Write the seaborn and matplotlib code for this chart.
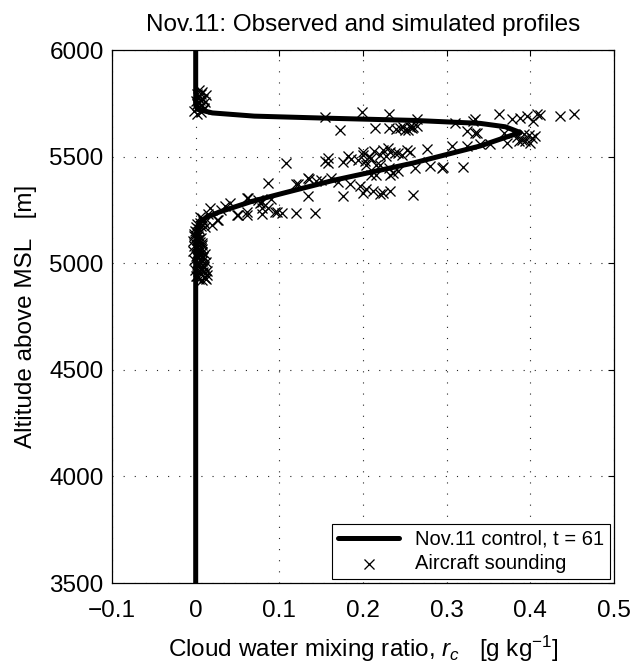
import matplotlib
matplotlib.use("Agg")
import matplotlib.pyplot as plt
import seaborn as sns
import pandas as pd

# ---- model profile (Nov.11 control, t = 61) ----
model_rc = [0.0, 0.0, 0.002, 0.004, 0.013, 0.028, 0.067, 0.106, 0.166, 0.26, 0.34, 0.37,
            0.388, 0.37, 0.34, 0.26, 0.16, 0.07, 0.02, 0.002, 0.0, 0.0]
model_alt = [3500, 5000, 5150, 5190, 5215, 5240, 5290, 5330, 5390, 5470, 5550, 5590,
             5613, 5640, 5656, 5670, 5680, 5690, 5705, 5722, 5740, 6000]

# ---- aircraft sounding ----
obs_low_rc = [0.008, 0.004, 0.010, 0.002, 0.006, 0.009, 0.003, 0.007, 0.005, 0.010,
              0.004, 0.002, 0.008, 0.006, 0.003, 0.009, 0.005, 0.001, 0.007, 0.004,
              0.006, 0.002, 0.008, 0.003, 0.005, 0.001, 0.004, 0.000, 0.003, -0.002,
              0.002, -0.001, 0.004, 0.000, 0.006, 0.002, 0.005, 0.009, 0.012, 0.014,
              0.011, 0.000, 0.013, -0.001, 0.010, 0.001, 0.012, -0.002, 0.009, 0.000,
              0.011, -0.003, 0.008, -0.002, 0.007, -0.003, 0.006, -0.002, 0.003, 0.010]
obs_low_alt = [4920, 4928, 4935, 4942, 4950, 4958, 4965, 4972, 4980, 4988,
               4995, 5002, 5010, 5018, 5025, 5032, 5040, 5048, 5055, 5062,
               5070, 5078, 5085, 5092, 5100, 5108, 5115, 5122, 5130, 5138,
               5145, 5152, 5160, 5168, 5175, 5182, 5190, 5196, 4925, 4945,
               4932, 4938, 4962, 4968, 4984, 4990, 5005, 5014, 5028, 5036,
               5044, 5058, 5066, 5080, 5096, 5104, 5118, 5126, 5142, 5188]

obs_top_rc = [0.002, 0.006, -0.002, 0.010, 0.004, 0.008, 0.001, 0.011, 0.005, 0.009,
              0.003, 0.012, 0.006, 0.008, 0.004, 0.000, 0.010, 0.002]
obs_top_alt = [5700, 5708, 5716, 5724, 5732, 5740, 5748, 5756, 5764, 5772,
               5780, 5788, 5796, 5804, 5812, 5760, 5730, 5794]

obs_cloud_rc = [
    # upper branch
    0.154, 0.199, 0.231, 0.264, 0.310, 0.334, 0.362, 0.378, 0.388, 0.396, 0.408, 0.411,
    0.403, 0.435, 0.452, 0.331, 0.172, 0.214, 0.231, 0.240, 0.244, 0.250, 0.254, 0.260,
    0.264, 0.324, 0.334, 0.336, 0.368, 0.386, 0.394, 0.402, 0.406, 0.400, 0.372, 0.352,
    0.340, 0.324, 0.306, 0.256, 0.258, 0.248, 0.390, 0.398, 0.384, 0.392,
    # middle band
    0.108, 0.154, 0.158, 0.158, 0.176, 0.182, 0.200, 0.202, 0.200, 0.207, 0.210, 0.220,
    0.224, 0.230, 0.232, 0.238, 0.242, 0.252, 0.256, 0.276, 0.262, 0.280, 0.294, 0.296,
    0.320, 0.216, 0.220, 0.204, 0.231, 0.242, 0.210, 0.216, 0.232, 0.236, 0.186, 0.194,
    0.213, 0.228, 0.246,
    # lower band
    0.087, 0.120, 0.134, 0.136, 0.144, 0.162, 0.184, 0.196, 0.176, 0.134, 0.200, 0.212,
    0.220, 0.224, 0.232, 0.260, 0.122, 0.150, 0.170, 0.204,
    # knee
    0.142, 0.120, 0.103, 0.095, 0.079, 0.061, 0.049, 0.061, 0.041, 0.017, 0.027, 0.079,
    0.075, 0.051, 0.061, 0.079, 0.097, 0.063, 0.077, 0.086, 0.005, 0.025, 0.011, 0.019,
    0.035, 0.090, 0.030, 0.015, 0.008]
obs_cloud_alt = [
    5686, 5710, 5699, 5677, 5657, 5675, 5701, 5675, 5683, 5690, 5701, 5695,
    5667, 5690, 5701, 5667, 5624, 5633, 5633, 5631, 5635, 5625, 5627, 5640,
    5645, 5619, 5613, 5612, 5612, 5575, 5572, 5588, 5596, 5565, 5565, 5557,
    5557, 5552, 5548, 5638, 5632, 5640, 5580, 5600, 5590, 5605,
    5471, 5478, 5494, 5472, 5475, 5501, 5520, 5478, 5509, 5497, 5494, 5509,
    5533, 5541, 5520, 5517, 5517, 5533, 5522, 5537, 5448, 5454, 5448, 5450,
    5451, 5462, 5462, 5462, 5447, 5431, 5415, 5415, 5415, 5423, 5490, 5485,
    5525, 5505, 5508,
    5377, 5372, 5401, 5395, 5384, 5400, 5370, 5364, 5316, 5315, 5329, 5337,
    5325, 5329, 5339, 5321, 5373, 5390, 5380, 5350,
    5235, 5234, 5234, 5242, 5258, 5242, 5226, 5305, 5282, 5258, 5203, 5289,
    5295, 5226, 5226, 5231, 5242, 5305, 5284, 5258, 5218, 5203, 5171, 5179,
    5270, 5300, 5250, 5230, 5210]

x_ticks = [-0.1, 0, 0.1, 0.2, 0.3, 0.4, 0.5]
x_tick_labels = ["\u22120.1", "0", "0.1", "0.2", "0.3", "0.4", "0.5"]
y_ticks = [3500, 4000, 4500, 5000, 5500, 6000]

sns.set_theme(style="white")
plt.rcParams["font.family"] = ["Liberation Sans", "DejaVu Sans"]
plt.rcParams["mathtext.fontset"] = "custom"
plt.rcParams["mathtext.rm"] = "Liberation Sans"
plt.rcParams["mathtext.it"] = "Liberation Sans:italic"
plt.rcParams["text.color"] = "black"
plt.rcParams["axes.labelcolor"] = "black"

model_df = pd.DataFrame({"rc": model_rc, "alt": model_alt})
obs_df = pd.DataFrame({"rc": obs_low_rc + obs_top_rc + obs_cloud_rc,
                       "alt": obs_low_alt + obs_top_alt + obs_cloud_alt})

fig = plt.figure(figsize=(6.34, 6.68), dpi=100)
ax = fig.add_axes([0.1767, 0.1272, 0.7918, 0.7979])

sns.lineplot(data=model_df, x="rc", y="alt", sort=False, estimator=None,
             color="black", linewidth=3.6, ax=ax, label="Nov.11 control, t = 61")
sns.scatterplot(data=obs_df, x="rc", y="alt", marker="x", color="black",
                s=52, linewidth=0.95, ax=ax, label="Aircraft sounding", zorder=3)

ax.set_xlim(-0.1, 0.5)
ax.set_ylim(3500, 6000)
ax.set_xticks(x_ticks)
ax.set_xticklabels(x_tick_labels)
ax.set_yticks(y_ticks)
ax.tick_params(direction="in", length=4, width=0.8, top=True, right=True,
               labelsize=17.5, colors="black")
ax.tick_params(axis="x", pad=12.5)
ax.tick_params(axis="y", pad=6)
for s in ax.spines.values():
    s.set_color("black")
    s.set_linewidth(0.9)
ax.grid(True, color="0.15", linestyle=(0, (1, 9)), linewidth=0.8)

ax.set_title("Nov.11: Observed and simulated profiles", fontsize=17.5, pad=14, color="black")
ax.set_xlabel(r"Cloud water mixing ratio, $r_c$   [g kg$^{-1}$]", fontsize=17.5, labelpad=8)
ax.set_ylabel("Altitude above MSL   [m]", fontsize=17.5, labelpad=9)

leg = ax.legend(loc="lower right", fontsize=14.5, frameon=True, fancybox=False,
                framealpha=1, edgecolor="black", borderaxespad=0.2,
                handlelength=3.0, borderpad=0.3, labelspacing=0.25, handletextpad=0.8)
leg.get_frame().set_linewidth(0.8)
for t in leg.get_texts():
    t.set_color("black")

fig.savefig("out.png", dpi=100)
